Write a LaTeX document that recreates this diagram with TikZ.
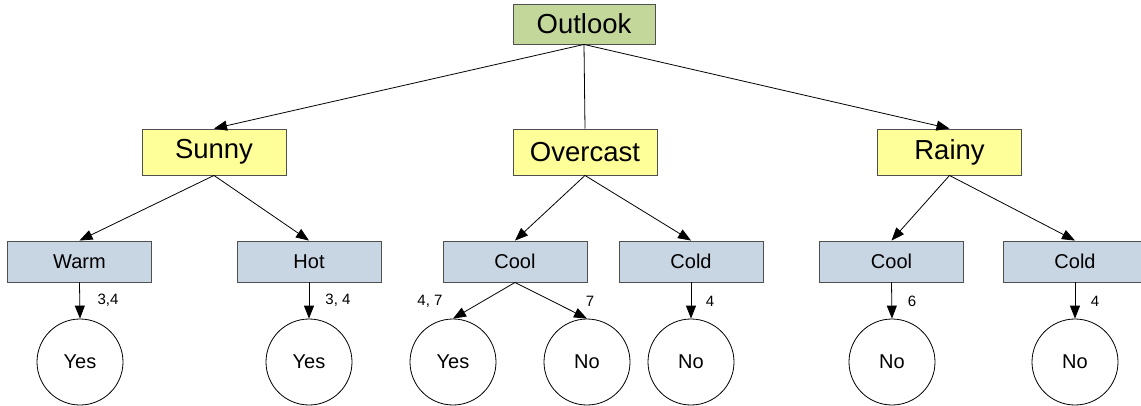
\documentclass[tikz,border=0pt]{standalone}
\usepackage{fontspec}
\setmainfont{Liberation Sans}
\usetikzlibrary{arrows.meta}
\definecolor{topgreen}{RGB}{196,215,155}
\definecolor{midyellow}{RGB}{255,255,153}
\definecolor{lowblue}{RGB}{200,213,227}
\definecolor{edgegray}{RGB}{80,80,80}
\tikzset{
  topbox/.style={draw=edgegray, line width=0.9pt, fill=topgreen, minimum width=142pt, minimum height=40pt, inner sep=0pt, font=\fontsize{27.5}{30}\selectfont},
  midbox/.style={draw=edgegray, line width=0.9pt, fill=midyellow, minimum width=144pt, minimum height=46pt, inner sep=0pt, font=\fontsize{27.5}{30}\selectfont},
  lowbox/.style={draw=edgegray, line width=0.9pt, fill=lowblue, minimum width=144pt, minimum height=41pt, inner sep=0pt, font=\fontsize{20}{22}\selectfont},
  leaf/.style={draw=black, line width=0.8pt, circle, minimum size=86pt, inner sep=0pt, font=\fontsize{20}{22}\selectfont},
  lbl/.style={inner sep=0pt, font=\fontsize{15}{17}\selectfont},
  conn/.style={draw=black, line width=0.8pt},
  arr/.style={conn, -{Triangle[length=13pt,width=10pt]}}
}
\begin{document}
\begin{tikzpicture}[x=1pt,y=-1pt]
\useasboundingbox (0,0) rectangle (1141,405);
\node[topbox] (outlook) at (584,24) {Outlook};
\node[midbox] (sunny) at (214,152) {Sunny};
\node[midbox] (overcast) at (585,152) {Overcast};
\node[midbox] (rainy) at (949.5,152) {Rainy};

\node[lowbox] (warm) at (79.5,261.5) {Warm};
\node[lowbox] (hot) at (309,261.5) {Hot};
\node[lowbox] (cool) at (515,261.5) {Cool};
\node[lowbox] (cold) at (691,261.5) {Cold};
\node[lowbox] (coolr) at (891.5,261.5) {Cool};
\node[lowbox] (coldr) at (1075,261.5) {Cold};

\node[leaf] (y1) at (80,362) {Yes};
\node[leaf] (y2) at (309,362) {Yes};
\node[leaf] (y3) at (453,362) {Yes};
\node[leaf] (n1) at (587,362) {No};
\node[leaf] (n2) at (691,362) {No};
\node[leaf] (n3) at (892,362) {No};
\node[leaf] (n4) at (1075,362) {No};

\draw[arr] (outlook.south) -- (sunny.north);
\draw[conn] (outlook.south) -- (overcast.north);
\draw[arr] (outlook.south) -- (rainy.north);

\draw[arr] (sunny.south) -- (warm.north);
\draw[arr] (sunny.south) -- (hot.north);
\draw[arr] (overcast.south) -- (cool.north);
\draw[arr] (overcast.south) -- (cold.north);
\draw[arr] (rainy.south) -- (coolr.north);
\draw[arr] (rainy.south) -- (coldr.north);

\draw[arr] (warm.south) -- (y1.north);
\draw[arr] (hot.south) -- (y2.north);
\draw[arr] (cool.south) -- (y3.north);
\draw[arr] (cool.south) -- (n1.north);
\draw[arr] (cold.south) -- (n2.north);
\draw[arr] (coolr.south) -- (n3.north);
\draw[arr] (coldr.south) -- (n4.north);

\node[lbl] (l1) at (108,300) {3,4};
\node[lbl] (l2) at (338,300) {3, 4};
\node[lbl] (l3) at (430,301) {4, 7};
\node[lbl] (l4) at (590,301) {7};
\node[lbl] (l5) at (710,301) {4};
\node[lbl] (l6) at (912,301) {6};
\node[lbl] (l7) at (1095,301) {4};
\end{tikzpicture}
\end{document}
